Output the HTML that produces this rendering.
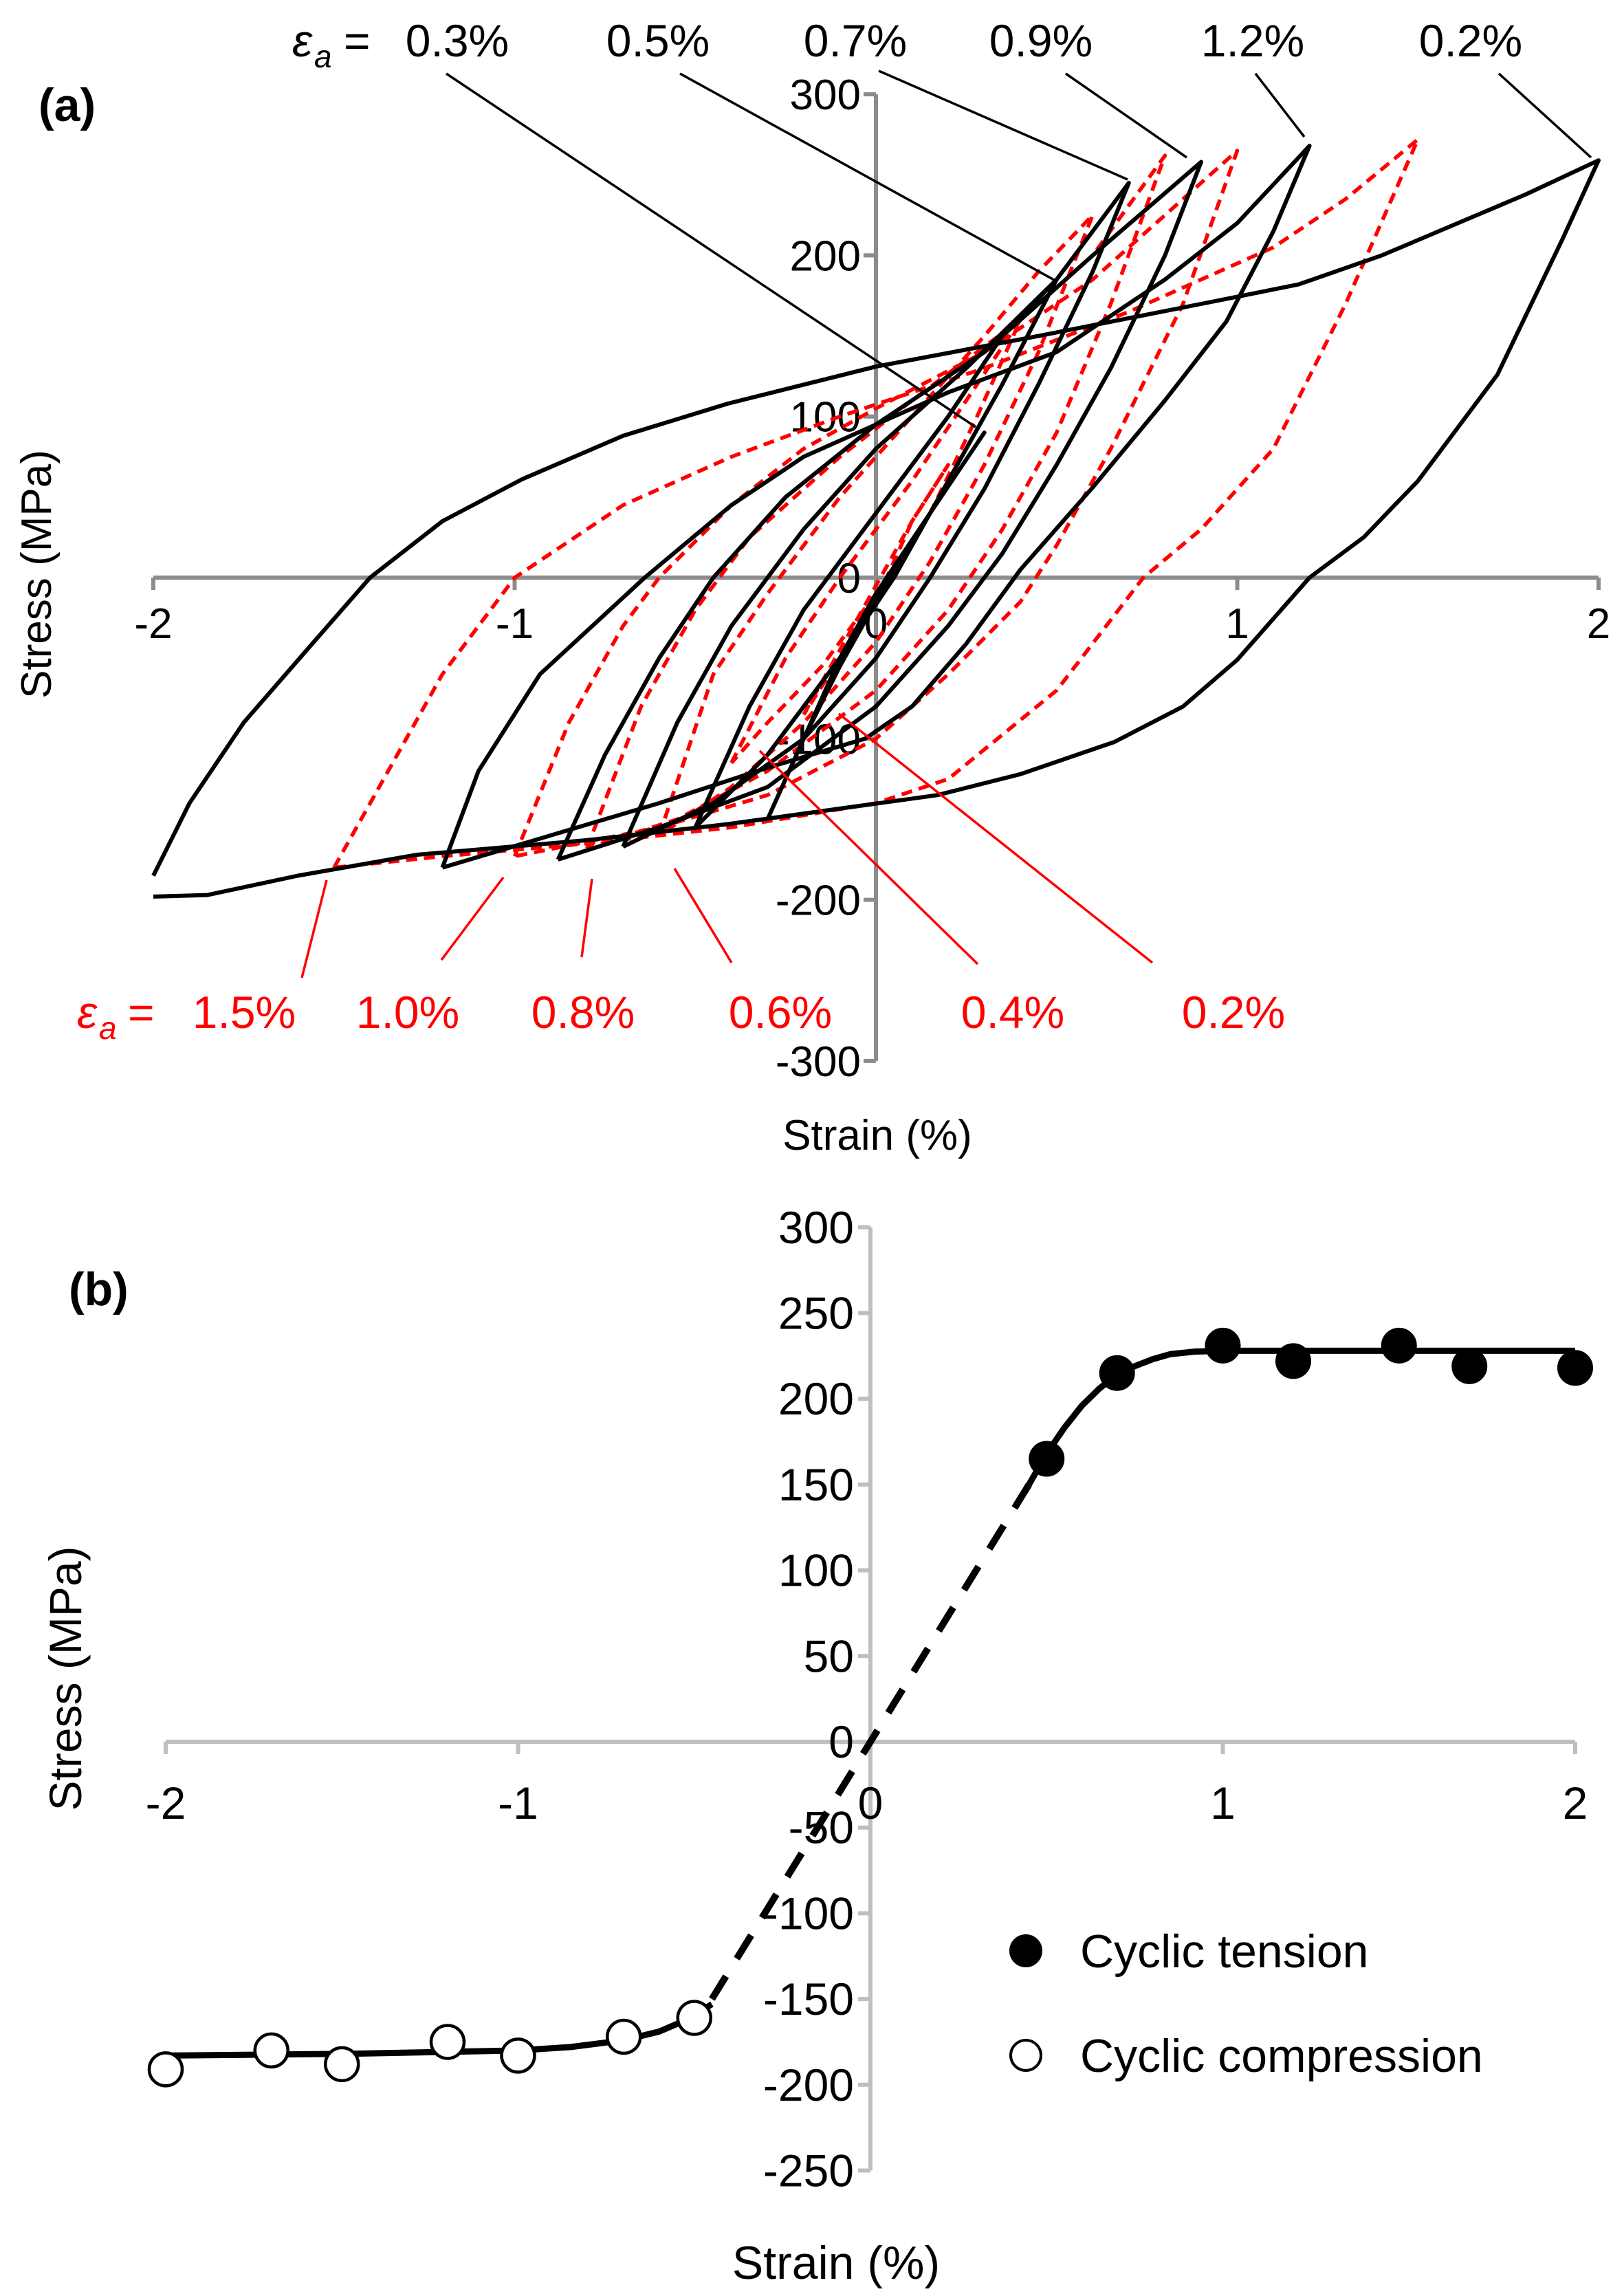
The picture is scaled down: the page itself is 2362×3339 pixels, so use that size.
<!DOCTYPE html>
<html><head><meta charset="utf-8">
<style>
html,body{margin:0;padding:0;background:#fff;}
svg{display:block;}
text{font-family:"Liberation Sans",sans-serif;}
</style></head>
<body>
<svg id="fig" width="2362" height="3339" viewBox="0 0 2362 3339" xmlns="http://www.w3.org/2000/svg">
<rect width="2362" height="3339" fill="#fff"/>
<g id="pa"></g>
<g id="pb"></g>
</svg>
<script>
// ---------- Panel (a) data ----------
const aXTicks = [-2,-1,0,1,2];
const aYTicks = [300,200,100,0,-100,-200,-300];
const blackLoops = [
 {name:'loop-2.0', up:[[-2,-185],[-1.9,-140],[-1.75,-90],[-1.56,-41],[-1.4,0],[-1.2,35],[-0.98,61],[-0.7,88],[-0.41,108],[0,131],[0.45,150],[0.97,173],[1.17,182],[1.4,200],[1.6,219],[1.8,238],[2,259]],
  dn:[[2,259],[1.9,210],[1.72,126],[1.5,60],[1.35,25],[1.2,0],[1.0,-51],[0.85,-80],[0.66,-102],[0.4,-122],[0.17,-135],[-0.41,-153],[-0.8,-163],[-1.27,-172],[-1.6,-185],[-1.85,-197],[-2,-198]]},
 {name:'loop-1.2', up:[[-1.2,-180],[-1.1,-120],[-0.93,-60],[-0.64,0],[-0.4,45],[-0.2,75],[0,95],[0.2,115],[0.5,140],[0.8,185],[1.0,220],[1.2,268]],
  dn:[[1.2,268],[1.1,215],[0.97,159],[0.8,110],[0.6,56],[0.4,5],[0.25,-41],[0.1,-80],[-0.03,-100],[-0.3,-118],[-0.6,-140],[-0.9,-160],[-1.2,-180]]},
 {name:'loop-0.9', up:[[-0.88,-175],[-0.75,-110],[-0.6,-50],[-0.45,0],[-0.25,50],[0,95],[0.3,140],[0.6,200],[0.9,258]],
  dn:[[0.9,258],[0.8,200],[0.65,130],[0.5,70],[0.35,15],[0.2,-30],[0,-80],[-0.3,-130],[-0.6,-155],[-0.88,-175]]},
 {name:'loop-0.7', up:[[-0.7,-167],[-0.55,-90],[-0.4,-30],[-0.2,30],[0,80],[0.25,130],[0.5,185],[0.7,245]],
  dn:[[0.7,245],[0.6,190],[0.45,120],[0.3,55],[0.15,0],[0,-50],[-0.2,-100],[-0.45,-140],[-0.7,-167]]},
 {name:'loop-0.5', up:[[-0.5,-155],[-0.35,-80],[-0.2,-20],[0,40],[0.2,100],[0.35,150],[0.5,185]],
  dn:[[0.5,185],[0.35,120],[0.2,60],[0.05,0],[-0.1,-50],[-0.3,-110],[-0.5,-155]]},
 {name:'loop-0.3', up:[[-0.3,-150],[-0.2,-100],[-0.1,-50],[0,-10],[0.15,40],[0.3,90]],
  dn:[[0.3,90],[0.15,40],[0,-15],[-0.1,-55],[-0.2,-100],[-0.3,-150]]}
];
const redLoops = [
 {name:'loop-1.5', up:[[-1.5,-180],[-1.35,-120],[-1.2,-60],[-1.0,0],[-0.7,45],[-0.4,75],[-0.1,100],[0.3,130],[0.7,165],[1.1,205],[1.3,235],[1.5,272]],
  dn:[[1.5,272],[1.3,170],[1.1,80],[0.9,30],[0.74,0],[0.5,-70],[0.2,-125],[0,-140],[-0.4,-155],[-0.8,-165],[-1.2,-173],[-1.5,-180]]},
 {name:'loop-1.0', up:[[-1.0,-173],[-0.85,-90],[-0.7,-30],[-0.6,0],[-0.4,45],[-0.2,80],[0,105],[0.3,140],[0.6,185],[0.8,225],[1.0,265]],
  dn:[[1.0,265],[0.85,170],[0.65,80],[0.5,20],[0.4,-15],[0.2,-60],[0,-100],[-0.3,-135],[-0.6,-155],[-1.0,-173]]},
 {name:'loop-0.8', up:[[-0.8,-168],[-0.65,-80],[-0.5,-20],[-0.35,25],[-0.1,75],[0.1,110],[0.4,160],[0.6,200],[0.8,262]],
  dn:[[0.8,262],[0.65,170],[0.5,90],[0.35,30],[0.2,-20],[0,-70],[-0.3,-120],[-0.55,-150],[-0.8,-168]]},
 {name:'loop-0.6', up:[[-0.6,-160],[-0.45,-60],[-0.3,-10],[-0.1,50],[0.1,100],[0.3,150],[0.45,190],[0.6,225]],
  dn:[[0.6,225],[0.45,140],[0.3,70],[0.15,10],[0,-40],[-0.2,-90],[-0.4,-130],[-0.6,-160]]},
 {name:'loop-0.4', up:[[-0.4,-115],[-0.25,-50],[-0.1,0],[0.1,60],[0.25,110],[0.4,160]],
  dn:[[0.4,160],[0.28,100],[0.15,40],[0,-10],[-0.15,-55],[-0.3,-90],[-0.4,-115]]},
 {name:'loop-0.2', up:[[-0.2,-85],[-0.1,-45],[0,-5],[0.1,35],[0.2,70]],
  dn:[[0.2,70],[0.1,35],[0,-15],[-0.1,-50],[-0.2,-85]]}
];
// ---------- Panel (b) data ----------
const bXTicks = [-2,-1,0,1,2];
const bYTicks = [300,250,200,150,100,50,0,-50,-100,-150,-200,-250];
const tensionX = [0.5,0.7,1.0,1.2,1.5,1.7,2.0];
const tensionY = [165,215,231,222,231,219,218];
const compX = [-0.5,-0.7,-1.0,-1.2,-1.5,-1.7,-2.0];
const compY = [-161,-172,-183,-175,-188,-180,-191];
const tensionFit = [[0.45,150],[0.5,168],[0.55,183],[0.6,196],[0.65,206],[0.7,214],[0.75,219],[0.8,223],[0.85,226],[0.92,227.5],[1.0,228],[1.5,228],[2.0,228]];
const compFit = [[-2,-183],[-1.5,-182],[-1.0,-180],[-0.85,-178],[-0.7,-174],[-0.6,-169],[-0.52,-162],[-0.45,-153]];
const elasticLine = [[0.45,150],[-0.45,-150]];

const NS='http://www.w3.org/2000/svg';
function mk(parent,tag,attrs,txt){const e=document.createElementNS(NS,tag);for(const k in attrs)e.setAttribute(k,attrs[k]);if(txt!==undefined)e.textContent=txt;parent.appendChild(e);return e;}

const ax = v => 1274 + v*525.5;
const ay = v => 840 - v*2.343;
const pa = document.getElementById('pa');
let e;
e=mk(pa,'line',{x1:ax(-2),y1:ay(0),x2:ax(2),y2:ay(0),stroke:'#8c8c8c','stroke-width':6});


e=mk(pa,'line',{x1:ax(0),y1:ay(300),x2:ax(0),y2:ay(-300),stroke:'#8c8c8c','stroke-width':6});


aYTicks.forEach(t=>{
 e=mk(pa,'line',{x1:ax(0)-18,y1:ay(t),x2:ax(0),y2:ay(t),stroke:'#8c8c8c','stroke-width':6});
 
 
 e=mk(pa,'text',{x:ax(0)-22,y:ay(t)+22,'text-anchor':'end','font-size':62,fill:'#000'},String(t));
 
 
});
aXTicks.forEach(t=>{
 e=mk(pa,'line',{x1:ax(t),y1:ay(0),x2:ax(t),y2:ay(0)+18,stroke:'#8c8c8c','stroke-width':6});
 
 
 e=mk(pa,'text',{x:ax(t),y:ay(0)+88,'text-anchor':'middle','font-size':62,fill:'#000'},String(t));
 
 
});
function pathFrom(pts,sx,sy){return pts.map((p,i)=>(i?'L':'M')+sx(p[0]).toFixed(1)+' '+sy(p[1]).toFixed(1)).join(' ');}
redLoops.forEach(l=>{
 e=mk(pa,'path',{d:pathFrom(l.up.concat(l.dn),ax,ay),fill:'none',stroke:'#ff0000','stroke-width':5.5,'stroke-dasharray':'16 10','stroke-linejoin':'round'});
 
 
});
blackLoops.forEach(l=>{
 e=mk(pa,'path',{d:pathFrom(l.up.concat(l.dn),ax,ay),fill:'none',stroke:'#000','stroke-width':6,'stroke-linejoin':'round'});
 
 
});
const blackLabels=[['0.3%',665,[649,107,1419,621]],['0.5%',957,[989,107,1533,407]],['0.7%',1244,[1278,103,1640,261]],['0.9%',1514,[1550,107,1726,229]],['1.2%',1822,[1826,107,1897,199]],['0.2%',2139,[2180,107,2314,229]]];
blackLabels.forEach(b=>{
 e=mk(pa,'text',{x:b[1],y:82,'text-anchor':'middle','font-size':66,fill:'#000'},b[0]);
 
 
 e=mk(pa,'line',{x1:b[2][0],y1:b[2][1],x2:b[2][2],y2:b[2][3],stroke:'#000','stroke-width':3.5});
 
 
});
e=mk(pa,'text',{x:425,y:82,'font-size':66,fill:'#000','font-family':'Liberation Serif, serif','font-style':'italic'},'ε');


e=mk(pa,'text',{x:457,y:98,'font-size':46,fill:'#000','font-family':'Liberation Serif, serif','font-style':'italic'},'a');


e=mk(pa,'text',{x:500,y:82,'font-size':66,fill:'#000'},'=');


const redLabels=[['1.5%',355,[439,1422,475,1280]],['1.0%',593,[642,1396,732,1276]],['0.8%',848,[846,1392,861,1278]],['0.6%',1135,[1064,1400,981,1263]],['0.4%',1473,[1422,1402,1105,1092]],['0.2%',1794,[1676,1400,1220,1038]]];
redLabels.forEach(b=>{
 e=mk(pa,'text',{x:b[1],y:1495,'text-anchor':'middle','font-size':66,fill:'#ff0000'},b[0]);
 
 
 e=mk(pa,'line',{x1:b[2][0],y1:b[2][1],x2:b[2][2],y2:b[2][3],stroke:'#ff0000','stroke-width':3.5});
 
 
});
e=mk(pa,'text',{x:112,y:1495,'font-size':66,fill:'#ff0000','font-family':'Liberation Serif, serif','font-style':'italic'},'ε');


e=mk(pa,'text',{x:144,y:1511,'font-size':46,fill:'#ff0000','font-family':'Liberation Serif, serif','font-style':'italic'},'a');


e=mk(pa,'text',{x:186,y:1495,'font-size':66,fill:'#ff0000'},'=');


e=mk(pa,'text',{x:56,y:176,'font-size':68,'font-weight':'bold',fill:'#000'},'(a)');


e=mk(pa,'text',{x:0,y:0,'font-size':62,fill:'#000','text-anchor':'middle',transform:'translate(74,835) rotate(-90)'},'Stress (MPa)');


e=mk(pa,'text',{x:1276,y:1672,'font-size':62,fill:'#000','text-anchor':'middle'},'Strain (%)');



const bx = v => 1266 + v*512.5;
const by = v => 2533 - v*2.494;
const pb = document.getElementById('pb');
e=mk(pb,'line',{x1:bx(-2),y1:by(0),x2:bx(2),y2:by(0),stroke:'#bfbfbf','stroke-width':6});


e=mk(pb,'line',{x1:bx(0),y1:by(300),x2:bx(0),y2:by(-250),stroke:'#bfbfbf','stroke-width':6});


bYTicks.forEach(t=>{
 e=mk(pb,'line',{x1:bx(0)-18,y1:by(t),x2:bx(0),y2:by(t),stroke:'#bfbfbf','stroke-width':6});
 
 
 e=mk(pb,'text',{x:bx(0)-24,y:by(t)+23,'text-anchor':'end','font-size':66,fill:'#000'},String(t));
 
 
});
bXTicks.forEach(t=>{
 e=mk(pb,'line',{x1:bx(t),y1:by(0),x2:bx(t),y2:by(0)+18,stroke:'#bfbfbf','stroke-width':6});
 
 
 e=mk(pb,'text',{x:bx(t),y:by(0)+112,'text-anchor':'middle','font-size':66,fill:'#000'},String(t));
 
 
});
e=mk(pb,'path',{d:pathFrom(elasticLine,bx,by),fill:'none',stroke:'#000','stroke-width':10,'stroke-dasharray':'40 30'});


e=mk(pb,'path',{d:pathFrom(tensionFit,bx,by),fill:'none',stroke:'#000','stroke-width':9,'stroke-linejoin':'round'});


e=mk(pb,'path',{d:pathFrom(compFit,bx,by),fill:'none',stroke:'#000','stroke-width':9,'stroke-linejoin':'round'});


tensionX.forEach((x,i)=>{
 e=mk(pb,'circle',{cx:bx(x),cy:by(tensionY[i]),r:24,fill:'#000',stroke:'#000','stroke-width':4});
 
 
});
compX.forEach((x,i)=>{
 e=mk(pb,'circle',{cx:bx(x),cy:by(compY[i]),r:24,fill:'#fff',stroke:'#000','stroke-width':4.5});
 
 
});
e=mk(pb,'circle',{cx:1492,cy:2837,r:22,fill:'#000',stroke:'#000','stroke-width':4});


e=mk(pb,'text',{x:1571,y:2861,'font-size':68,fill:'#000'},'Cyclic tension');


e=mk(pb,'circle',{cx:1492,cy:2989,r:22,fill:'#fff',stroke:'#000','stroke-width':4});


e=mk(pb,'text',{x:1571,y:3013,'font-size':68,fill:'#000'},'Cyclic compression');


e=mk(pb,'text',{x:100,y:1898,'font-size':68,'font-weight':'bold',fill:'#000'},'(b)');


e=mk(pb,'text',{x:0,y:0,'font-size':66,fill:'#000','text-anchor':'middle',transform:'translate(118,2441) rotate(-90)'},'Stress (MPa)');


e=mk(pb,'text',{x:1216,y:3314,'font-size':68,fill:'#000','text-anchor':'middle'},'Strain (%)');


</script>
</body></html>
